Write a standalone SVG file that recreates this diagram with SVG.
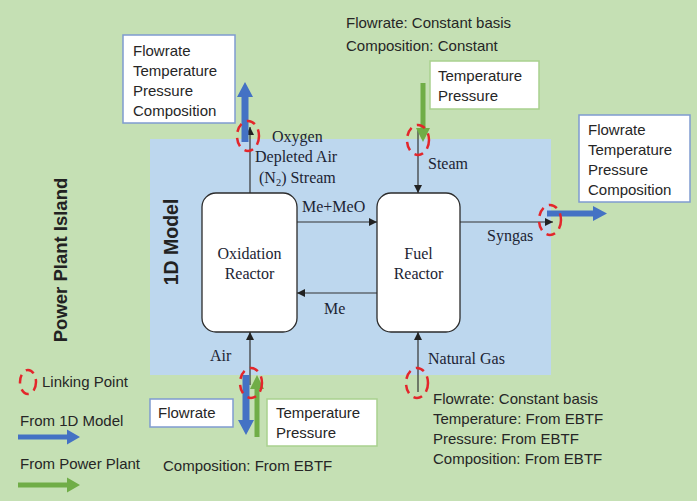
<svg xmlns="http://www.w3.org/2000/svg" width="697" height="501" viewBox="0 0 697 501">
<style>
.sans{font-family:"Liberation Sans",Arial,sans-serif;font-size:15px;fill:#262626}
.serif{font-family:"Liberation Serif","Times New Roman",serif;font-size:16px;fill:#1c2433}
.bold{font-family:"Liberation Sans",Arial,sans-serif;font-weight:bold;fill:#222}
.box{fill:#fff;stroke-width:1.5}
.bbox{stroke:#7f9bd0}
.gbox{stroke:#a9d18e}
.reactor{fill:#fff;stroke:#2b2b2b;stroke-width:1.3}
.flow{stroke:#333;stroke-width:1.2;fill:none;marker-end:url(#ah)}
.link{fill:none;stroke:#e3262b;stroke-width:2.5;stroke-dasharray:9 6}
.blue{fill:#4472c4}
.green{fill:#70ad47}
</style>
<defs>
<marker id="ah" viewBox="0 0 10 10" refX="10" refY="5" markerWidth="8" markerHeight="8" markerUnits="userSpaceOnUse" orient="auto">
<path d="M0,0 L10,5 L0,10 z" fill="#222"/>
</marker>
</defs>
<rect x="0" y="0" width="697" height="501" fill="#c5e0b4"/>
<rect id="model-area" x="150" y="139" width="401" height="236" fill="#bdd7ee"/>
<text class="bold" font-size="18.5" transform="translate(67,260) rotate(-90)" text-anchor="middle">Power Plant Island</text>
<text class="bold" font-size="19.5" transform="translate(178,242) rotate(-90)" text-anchor="middle">1D Model</text>

<g id="connectors">
<line class="flow" x1="250" y1="193" x2="250" y2="127"/>
<line class="flow" x1="418" y1="130" x2="418" y2="193"/>
<line class="flow" x1="297" y1="222" x2="377" y2="222"/>
<line class="flow" x1="377" y1="293" x2="297" y2="293"/>
<line class="flow" x1="460" y1="222" x2="553" y2="222"/>
<line class="flow" x1="250" y1="385" x2="250" y2="332"/>
<line class="flow" x1="418" y1="392" x2="418" y2="332"/>
<path class="blue" d="M241.5,142 V97 H237 L245,82 L253,97 H248.5 V142 z"/>
<path class="green" d="M420.5,83 V128 H416 L423,142 L430,128 H425.5 V83 z"/>
<path class="blue" d="M547,210.5 H593 V206 L607,213.5 L593,221 V216.5 H547 z"/>
<path class="blue" d="M242.5,375 V420 H238 L246,435 L254,420 H249.5 V375 z"/>
<path class="green" d="M254.5,437 V389 H250 L257,375 L264,389 H259.5 V437 z"/>
</g>

<g id="oxidation-reactor">
<rect class="reactor" x="202" y="193" width="95" height="139" rx="14"/>
<text class="serif" x="249.5" y="259" text-anchor="middle">Oxidation</text>
<text class="serif" x="249.5" y="279" text-anchor="middle">Reactor</text>
</g>
<g id="fuel-reactor">
<rect class="reactor" x="377" y="193" width="83" height="139" rx="14"/>
<text class="serif" x="418.5" y="259" text-anchor="middle">Fuel</text>
<text class="serif" x="418.5" y="279" text-anchor="middle">Reactor</text>
</g>

<g id="stream-labels">
<text class="serif" x="272" y="142">Oxygen</text>
<text class="serif" x="255" y="162">Depleted Air</text>
<text class="serif" x="259" y="183">(N<tspan font-size="10.5" dy="3">2</tspan><tspan dy="-3">) Stream</tspan></text>
<text class="serif" x="428" y="169">Steam</text>
<text class="serif" x="302" y="212">Me+MeO</text>
<text class="serif" x="324" y="314">Me</text>
<text class="serif" x="487" y="241">Syngas</text>
<text class="serif" x="210" y="361">Air</text>
<text class="serif" x="428" y="364">Natural Gas</text>
</g>

<g id="linking-points">
<ellipse class="link" cx="248" cy="136" rx="11" ry="15"/>
<ellipse class="link" cx="418" cy="140" rx="11" ry="15"/>
<ellipse class="link" cx="550" cy="220" rx="11" ry="15"/>
<ellipse class="link" cx="251" cy="383" rx="11" ry="15"/>
<ellipse class="link" cx="417" cy="383" rx="11" ry="15"/>
</g>

<g id="oxygen-box">
<rect class="box bbox" x="123" y="35" width="112" height="88"/>
<text class="sans" x="133" y="56">Flowrate</text>
<text class="sans" x="133" y="76">Temperature</text>
<text class="sans" x="133" y="96">Pressure</text>
<text class="sans" x="133" y="116">Composition</text>
</g>
<g id="steam-info">
<text class="sans" x="346" y="28">Flowrate: Constant basis</text>
<text class="sans" x="346" y="51">Composition: Constant</text>
<rect class="box gbox" x="430" y="61" width="109" height="48"/>
<text class="sans" x="438" y="81">Temperature</text>
<text class="sans" x="438" y="101">Pressure</text>
</g>
<g id="syngas-box">
<rect class="box bbox" x="579" y="115" width="111" height="87"/>
<text class="sans" x="588" y="135">Flowrate</text>
<text class="sans" x="588" y="155">Temperature</text>
<text class="sans" x="588" y="175">Pressure</text>
<text class="sans" x="588" y="195">Composition</text>
</g>
<g id="air-info">
<rect class="box bbox" x="150" y="399" width="83" height="28"/>
<text class="sans" x="158" y="418">Flowrate</text>
<rect class="box gbox" x="267" y="399" width="110" height="47"/>
<text class="sans" x="276" y="418">Temperature</text>
<text class="sans" x="276" y="438">Pressure</text>
<text class="sans" x="163" y="471">Composition: From EBTF</text>
</g>
<g id="natural-gas-info">
<text class="sans" x="433" y="404">Flowrate: Constant basis</text>
<text class="sans" x="433" y="424">Temperature: From EBTF</text>
<text class="sans" x="433" y="444">Pressure: From EBTF</text>
<text class="sans" x="433" y="464">Composition: From EBTF</text>
</g>

<g id="legend">
<ellipse class="link" cx="28" cy="382" rx="8" ry="12" stroke-dasharray="7 5"/>
<text class="sans" x="42" y="387">Linking Point</text>
<text class="sans" x="20" y="426">From 1D Model</text>
<path class="blue" d="M18,434.5 H67 V429.5 L80,437 L67,444.5 V439.5 H18 z"/>
<text class="sans" x="20" y="469">From Power Plant</text>
<path class="green" d="M18,482.5 H67 V477.5 L80,485 L67,492.5 V487.5 H18 z"/>
</g>
</svg>
